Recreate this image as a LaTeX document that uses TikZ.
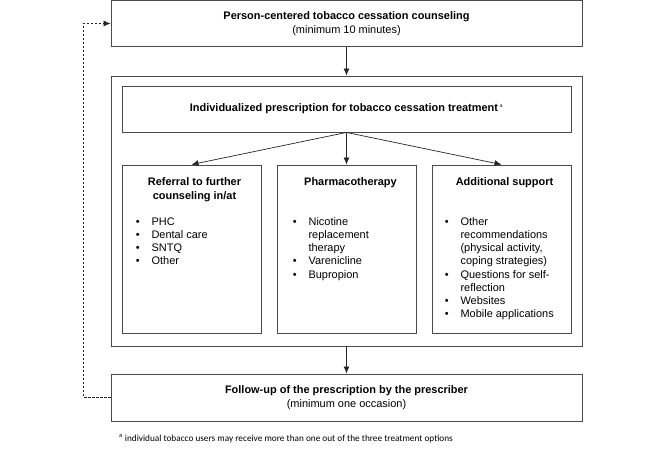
\documentclass[tikz,border=0pt]{standalone}
\usepackage{fontspec}
\setmainfont{Liberation Sans}
\newfontfamily\notefont{Carlito}
\usetikzlibrary{arrows.meta,shadows}

\definecolor{boxline}{HTML}{4A4A4A}

\tikzset{
  box/.style={draw=boxline, line width=0.9bp, fill=white, inner sep=0pt,
    drop shadow={shadow xshift=0.4bp, shadow yshift=-1bp, opacity=0.35, fill=black!60}},
  boxtitle/.style={anchor=north, align=center, inner sep=0pt, font=\fontsize{11}{14}\selectfont\bfseries},
  boxlist/.style={anchor=north west, inner sep=0pt},
  flow/.style={-{Latex[length=7bp,width=6bp]}, draw=black!85, line width=0.7bp},
  loopback/.style={-{Latex[length=7bp,width=6bp]}, draw=black!85, line width=0.6bp,
    dash pattern=on 2.5bp off 1.5bp},
}

\newcommand{\bulletrows}[1]{%
  {\fontsize{11}{13.3}\selectfont
  \renewcommand{\arraystretch}{1}%
  \begin{tabular}{@{}l@{\hspace{12bp}}l@{}}#1\end{tabular}}}

\begin{document}
\begin{tikzpicture}[x=1bp, y=1bp, font=\fontsize{11}{14}\selectfont]
  \useasboundingbox (0,0) rectangle (666,451);

  % counseling and frame
  \node (counsel) [box, minimum width=471bp, minimum height=46bp, align=center] at (346.5,427.5)
    {\textbf{Person-centered tobacco cessation counseling}\\(minimum 10 minutes)};
  \node (frame) [box, minimum width=471bp, minimum height=270bp] at (346.5,240) {};
  \node (prescr) [box, minimum width=449bp, minimum height=46bp] at (346.5,342)
    {\textbf{Individualized prescription for tobacco cessation treatment}\,\textsuperscript{\tiny a}};

  % three treatment options
  \node (referral) [box, minimum width=139bp, minimum height=168bp] at (191.5,202) {};
  \node (pharma) [box, minimum width=139bp, minimum height=168bp] at (346.5,202) {};
  \node (support) [box, minimum width=139bp, minimum height=168bp] at (501.5,202) {};

  \node (referraltitle) [boxtitle] at ([xshift=3bp,yshift=-13bp]referral.north)
    {Referral to further\\counseling in/at};
  \node (pharmatitle) [boxtitle] at ([xshift=4bp,yshift=-13bp]pharma.north) {Pharmacotherapy};
  \node (supporttitle) [boxtitle] at ([xshift=3bp,yshift=-13bp]support.north) {Additional support};

  \node (referrallist) [boxlist] at ([xshift=14bp,yshift=-51bp]referral.north west)
    {\bulletrows{\textbullet & PHC\\ \textbullet & Dental care\\ \textbullet & SNTQ\\ \textbullet & Other}};
  \node (pharmalist) [boxlist] at ([xshift=16bp,yshift=-51bp]pharma.north west)
    {\bulletrows{\textbullet & Nicotine\\ & replacement\\ & therapy\\ \textbullet & Varenicline\\ \textbullet & Bupropion}};
  \node (supportlist) [boxlist] at ([xshift=13bp,yshift=-51bp]support.north west)
    {\bulletrows{\textbullet & Other\\ & recommendations\\ & (physical activity,\\ & coping strategies)\\
      \textbullet & Questions for self-\\ & reflection\\ \textbullet & Websites\\ \textbullet & Mobile applications}};

  % follow-up
  \node (followup) [box, minimum width=471bp, minimum height=47bp, align=center] at (346.5,53.5)
    {\textbf{Follow-up of the prescription by the prescriber}\\(minimum one occasion)};

  \node (note) [anchor=west, inner sep=0pt, font=\notefont\fontsize{9.3}{10}\selectfont] at (119,12)
    {\textsuperscript{a} individual tobacco users may receive more than one out of the three treatment options};

  % connectors
  \draw [flow] (counsel.south) -- (frame.north);
  \draw [flow] (prescr.south) -- (referral.north);
  \draw [flow] (prescr.south) -- (pharma.north);
  \draw [flow] (prescr.south) -- (support.north);
  \draw [flow] (frame.south) -- (followup.north);
  \draw [loopback] (followup.west) -- ([xshift=-27bp]followup.west) |- (counsel.west);
\end{tikzpicture}
\end{document}
